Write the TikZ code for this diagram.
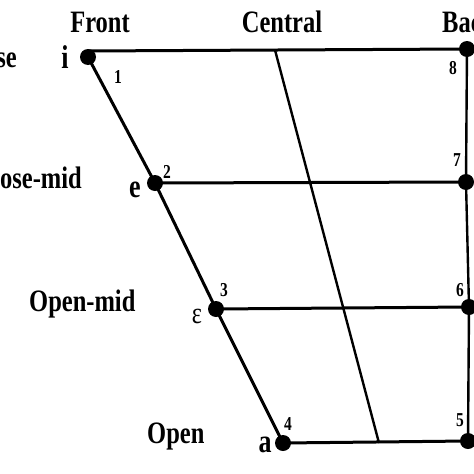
\documentclass[tikz,border=0pt]{standalone}
\usepackage{fontspec}
\usepackage{graphicx}
\setmainfont{Liberation Serif}
\newcommand{\tallbig}[1]{\scalebox{1}[1.27]{\fontsize{24.5}{26}\selectfont\bfseries #1}}
\newcommand{\tallnum}[1]{\scalebox{1}[1.27]{\fontsize{15.5}{17}\selectfont\bfseries #1}}
\newcommand{\tallvow}[1]{\scalebox{1}[1.27]{\fontsize{26}{28}\selectfont\bfseries #1}}
\begin{document}
\begin{tikzpicture}[x=1pt,y=-1pt,
  heading/.style={inner sep=0pt},
  vdot/.style={circle, fill=black, minimum size=16pt, inner sep=0pt},
  chart/.style={line width=3pt},
  thinline/.style={line width=2.4pt},
  numlabel/.style={inner sep=0pt},
  vowel/.style={inner sep=0pt}]
\useasboundingbox (0,0) rectangle (474,474);
% coordinates
\coordinate (iTop) at (88,51);
\coordinate (topC) at (275,50);
\coordinate (botC) at (379,443);
% dots
\node[vdot] (di) at (88,57) {};
\node[vdot] (de) at (155,183) {};
\node[vdot] (deps) at (216,309) {};
\node[vdot] (da) at (283,443) {};
\node[vdot] (d8) at (467,49) {};
\node[vdot] (d7) at (466,182) {};
\node[vdot] (d6) at (469,307) {};
\node[vdot] (d5) at (468,441) {};
% lines
\draw[chart] (di.center) -- (de.center) -- (deps.center) -- (da.center);
\draw[chart] (iTop) -- (d8.center);
\draw[chart] (de.center) -- (d7.center);
\draw[chart] (deps.center) -- (d6.center);
\draw[chart] (da.center) -- (d5.center);
\draw[thinline] (d8.center) -- (d7.center) -- (d6.center) -- (d5.center);
\draw[thinline] (topC) -- (botC);
% headings
\node[heading] (hf) at (100,22) {\tallbig{Front}};
\node[heading] (hc) at (282,22) {\tallbig{Central}};
\node[heading, anchor=west] (hb) at (442,22) {\tallbig{Back}};
\node[heading, anchor=base east] (hclose) at (17,67) {\tallbig{Close}};
\node[heading, anchor=base east] (hcm) at (82,188) {\tallbig{Close-mid}};
\node[heading, anchor=base west] (hom) at (29,311) {\tallbig{Open-mid}};
\node[heading, anchor=base west] (ho) at (147,443) {\tallbig{Open}};
% vowels
\node[vowel, anchor=base] (vi) at (65,68) {\tallvow{i}};
\node[vowel, anchor=base] (ve) at (135,197) {\tallvow{e}};
\node[vowel, anchor=base] (veps) at (197,323) {\scalebox{1}[1.27]{\fontsize{24}{26}\selectfont ε}};
\node[vowel, anchor=base] (va) at (265,452) {\tallvow{a}};
% numbers
\node[numlabel] (n1) at (118,77) {\tallnum{1}};
\node[numlabel] (n2) at (167,172) {\tallnum{2}};
\node[numlabel] (n3) at (224,290) {\tallnum{3}};
\node[numlabel] (n4) at (288,424) {\tallnum{4}};
\node[numlabel] (n5) at (460,420) {\tallnum{5}};
\node[numlabel] (n6) at (460,290) {\tallnum{6}};
\node[numlabel] (n7) at (457,160) {\tallnum{7}};
\node[numlabel] (n8) at (453,68) {\tallnum{8}};
\end{tikzpicture}
\end{document}
